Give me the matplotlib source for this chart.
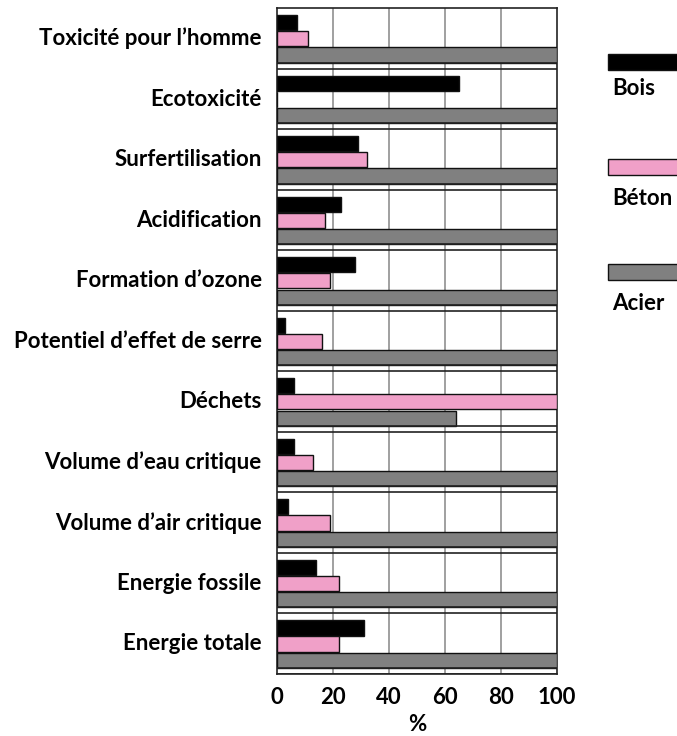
import matplotlib.pyplot as plt
from matplotlib.patches import Rectangle

categories = ["Toxicité pour l’homme", "Ecotoxicité", "Surfertilisation", "Acidification",
              "Formation d’ozone", "Potentiel d’effet de serre", "Déchets",
              "Volume d’eau critique", "Volume d’air critique", "Energie fossile",
              "Energie totale"]
bois = [7, 65, 29, 23, 28, 3, 6, 6, 4, 14, 31]
beton = [11, 0, 32, 17, 19, 16, 100, 13, 19, 22, 22]
acier = [100, 100, 100, 100, 100, 100, 64, 100, 100, 100, 100]
series = ["Bois", "Béton", "Acier"]
colors = ["#000000", "#f0a0c8", "#808080"]

plt.rcParams['font.family'] = ['Lato', 'DejaVu Sans']

fig = plt.figure(figsize=(6.77, 7.36), dpi=100)
ax = fig.add_axes([0.4092, 0.0842, 0.4136, 0.9049])

n = len(categories)
ypos = list(range(n))
offsets = [0.24, 0.505, 0.775]
for vals, off, col in zip([bois, beton, acier], offsets, colors):
    ax.barh([y + off for y in ypos], vals, height=0.25, color=col,
            edgecolor="#111111", linewidth=1.0, zorder=3)

for i in range(n):
    ax.axhline(i + 0.9, color="#222222", lw=1.2, zorder=4)
    ax.axhline(i + 1.0, color="#222222", lw=1.2, zorder=4)

for x in [20, 40, 60, 80]:
    ax.axvline(x, color="#999999", lw=1.3, zorder=1)

ax.set_xlim(0, 100)
ax.set_ylim(n, 0)
ax.set_yticks([y + 0.47 for y in ypos])
ax.set_yticklabels(categories, fontsize=16, fontweight='bold')
ax.tick_params(length=0)
ax.tick_params(axis='y', pad=11)
ax.tick_params(axis='x', pad=9)
ax.set_xticks([0, 20, 40, 60, 80, 100])
ax.set_xticklabels(["0", "20", "40", "60", "80", "100"], fontsize=16, fontweight='bold')
ax.set_xlabel("%", fontsize=16, fontweight='bold', labelpad=5)
for s in ax.spines.values():
    s.set_color("#222222")
    s.set_linewidth(1.2)

# legend on the right
patch_y = [54, 159, 264]
text_base = [95, 205, 310]
for name, col, py, tb in zip(series, colors, patch_y, text_base):
    fig.patches.append(Rectangle((608 / 677, 1 - (py + 16) / 736), 0.11, 16 / 736,
                                 transform=fig.transFigure, facecolor=col,
                                 edgecolor="#111111", lw=1.0, clip_on=False))
    fig.text(612 / 677, 1 - tb / 736, name, fontsize=16, fontweight='bold',
             va='baseline', ha='left')

fig.savefig("out.png", dpi=100)
